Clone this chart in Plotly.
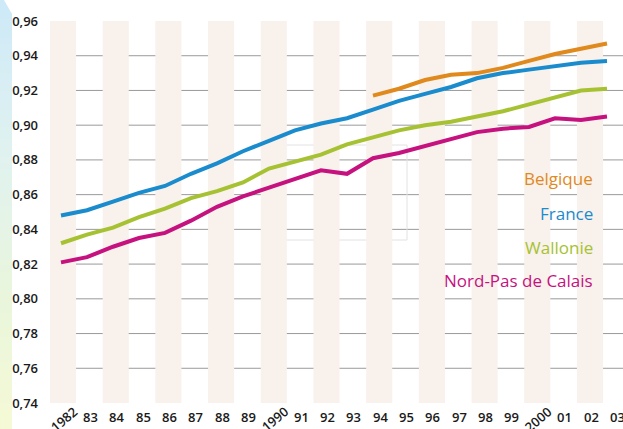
import plotly.graph_objects as go

# ---------------- data ----------------
years = list(range(1982, 2004))
tick_labels = ["1982", "83", "84", "85", "86", "87", "88", "89", "1990", "91", "92",
               "93", "94", "95", "96", "97", "98", "99", "2000", "01", "02", "03"]

belgique = [None] * 12 + [0.917, 0.921, 0.926, 0.929, 0.930, 0.933, 0.937, 0.941, 0.944, 0.947]
france = [0.848, 0.851, 0.856, 0.861, 0.865, 0.872, 0.878, 0.885, 0.891, 0.897, 0.901,
          0.904, 0.909, 0.914, 0.918, 0.922, 0.927, 0.930, 0.932, 0.934, 0.936, 0.937]
wallonie = [0.832, 0.837, 0.841, 0.847, 0.852, 0.858, 0.862, 0.867, 0.875, 0.879, 0.883,
            0.889, 0.893, 0.897, 0.900, 0.902, 0.905, 0.908, 0.912, 0.916, 0.920, 0.921]
nord_pas = [0.821, 0.824, 0.830, 0.835, 0.838, 0.845, 0.853, 0.859, 0.864, 0.869, 0.874,
            0.872, 0.881, 0.884, 0.888, 0.892, 0.896, 0.898, 0.899, 0.904, 0.903, 0.905]

series_names = ["Belgique", "France", "Wallonie", "Nord-Pas de Calais"]
series_values = [belgique, france, wallonie, nord_pas]
series_colors = ["#e0891c", "#1a8bcd", "#a6c232", "#c5127f"]

y_ticks = [0.74, 0.76, 0.78, 0.80, 0.82, 0.84, 0.86, 0.88, 0.90, 0.92, 0.94, 0.96]
y_tick_labels = ["0,74", "0,76", "0,78", "0,80", "0,82", "0,84", "0,86", "0,88",
                 "0,90", "0,92", "0,94", "0,96"]
legend_y = [0.8694, 0.8493, 0.8296, 0.8106]

# ---------------- figure ----------------
W, H = 623, 429
ML, MR, MT, MB = 50, 0, 21, 26
PW, PH = W - ML - MR, H - MT - MB

FONT = "Open Sans"
fig = go.Figure()

for name, vals, col in zip(series_names, series_values, series_colors):
    fig.add_trace(go.Scatter(x=years, y=vals, mode="lines", name=name,
                             line=dict(color=col, width=4), showlegend=False,
                             hoverinfo="skip"))

# invisible trace anchoring the stripe / label axis
fig.add_trace(go.Scatter(x=[years[0], years[-1]], y=[y_ticks[0], y_ticks[0]],
                         mode="markers", marker=dict(opacity=0), xaxis="x2",
                         showlegend=False, hoverinfo="skip"))

shapes = []


def px2paper_x(px):
    return (px - ML) / PW


def px2paper_y(py):
    return (H - MB - py) / PH


stops = [(0, (205, 233, 248)), (150, (224, 242, 240)), (300, (233, 246, 220)), (429, (245, 249, 213))]


def col_at(py):
    for (a, ca), (b, cb) in zip(stops[:-1], stops[1:]):
        if a <= py <= b:
            t = (py - a) / (b - a)
            c = [round(ca[i] + (cb[i] - ca[i]) * t) for i in range(3)]
            return "rgb(%d,%d,%d)" % tuple(c)
    return "rgb(%d,%d,%d)" % stops[-1][1]


# left gradient strip (decoration): top diagonal piece then bands
p = "M %f,%f L %f,%f L %f,%f L %f,%f Z" % (
    px2paper_x(0), px2paper_y(0), px2paper_x(4), px2paper_y(0),
    px2paper_x(12), px2paper_y(14), px2paper_x(0), px2paper_y(14))
shapes.append(dict(type="path", path=p, xref="paper", yref="paper",
                   fillcolor=col_at(5), line=dict(width=0), layer="below"))
py = 14
while py < H:
    py2 = min(py + 6, H)
    shapes.append(dict(type="rect", xref="paper", yref="paper",
                       x0=px2paper_x(0), x1=px2paper_x(12),
                       y0=px2paper_y(py2), y1=px2paper_y(py) + 0.002,
                       fillcolor=col_at((py + py2) / 2), line=dict(width=0), layer="below"))
    py = py2

# stripes at even years
for yr in years:
    if (yr - years[0]) % 2 == 0 and yr < years[-1]:
        shapes.append(dict(type="rect", xref="x2", yref="y",
                           x0=yr - 0.495, x1=yr + 0.495, y0=y_ticks[0], y1=y_ticks[-1],
                           fillcolor="#f9f1ec", line=dict(width=0), layer="below"))

# gridlines
for v in y_ticks[1:-1]:
    shapes.append(dict(type="line", xref="paper", yref="y", x0=0, x1=1, y0=v, y1=v,
                       line=dict(color="#9a9a9a", width=1), layer="below"))

# faint rectangle (artifact in the original)
shapes.append(dict(type="rect", xref="paper", yref="paper",
                   x0=px2paper_x(262), x1=px2paper_x(407),
                   y0=px2paper_y(240), y1=px2paper_y(145),
                   line=dict(color="#e2e2e2", width=1), fillcolor="rgba(0,0,0,0)",
                   layer="below"))

annotations = []
# x tick labels
for yr, lab in zip(years, tick_labels):
    full = len(lab) == 4
    annotations.append(dict(x=yr, y=0, xref="x2", yref="paper", text=lab,
                            showarrow=False, xanchor="center", yanchor="middle",
                            yshift=-16 if full else -14, xshift=1,
                            textangle=-40 if full else 0,
                            font=dict(family=FONT, size=13, color="#1a1a1a", weight=600)))

# legend labels
for name, col, ly in zip(series_names, series_colors, legend_y):
    annotations.append(dict(x=px2paper_x(595), y=ly, xref="paper", yref="y", text=name,
                            showarrow=False, xanchor="right", yanchor="middle",
                            font=dict(family=FONT, size=17, color=col)))

fig.update_layout(
    width=W, height=H,
    margin=dict(l=ML, r=MR, t=MT, b=MB, pad=0),
    paper_bgcolor="white", plot_bgcolor="white",
    showlegend=False,
    shapes=shapes, annotations=annotations,
    xaxis=dict(range=[1982 - 11 / 26, 1982 + 562 / 26], showgrid=False, zeroline=False,
               showline=False, showticklabels=False, ticks=""),
    xaxis2=dict(range=[1982 - 13 / 26.35, 1982 + 560 / 26.35], overlaying="x",
                showgrid=False, zeroline=False, showline=False, showticklabels=False,
                ticks="", visible=False),
    yaxis=dict(range=[y_ticks[0], y_ticks[-1]], tickvals=y_ticks, ticktext=y_tick_labels,
               showgrid=False, zeroline=False, showline=False, ticks="",
               ticklabelstandoff=11,
               tickfont=dict(family=FONT, size=13, color="#1a1a1a", weight=600)),
)

fig.write_html("out.html", config={"displayModeBar": False},
               post_script="document.body.style.margin='0';document.body.style.overflow='hidden';")
